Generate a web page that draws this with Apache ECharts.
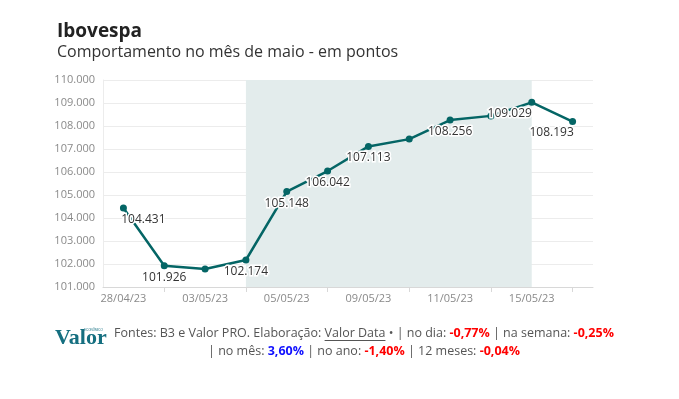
<!DOCTYPE html>
<html><head><meta charset="utf-8">
<script src="https://cdn.jsdelivr.net/npm/echarts@6/dist/echarts.min.js"></script>
<style>html,body{margin:0;padding:0;background:#fff}#c{width:679px;height:399px}</style>
</head><body><div id="c"></div>
<script>
var categories = ['28/04/23','02/05/23','03/05/23','04/05/23','05/05/23','08/05/23','09/05/23','10/05/23','11/05/23','12/05/23','15/05/23','16/05/23'];
var values = [104431, 101926, 101780, 102174, 105148, 106042, 107113, 107430, 108256, 108440, 109029, 108193];
var labeledIdx = [0,1,3,4,5,6,8,10,11];
var labelOffsets = {0:[20,0], 10:[-22,0], 11:[-21,0]};
var shadeFrom = '04/05/23', shadeTo = '15/05/23';
var yMin = 101000, yMax = 110000, yStep = 1000;

var FONT = "'Open Sans', sans-serif";
function fmt(v){ return (v/1000).toFixed(3); }

var data = values.map(function(v,i){
  var d = {value: v};
  if (labeledIdx.indexOf(i) < 0) d.label = {show:false};
  else if (labelOffsets[i]) d.label = {offset: labelOffsets[i]};
  return d;
});

var chart = echarts.init(document.getElementById('c'), null, {renderer:'canvas'});

var cv = document.createElement('canvas').getContext('2d');
function w(t, bold){ cv.font = (bold?'bold ':'') + '12.5px ' + FONT; return cv.measureText(t).width; }
var seg1 = 'Fontes: B3 e Valor PRO. Elaboração: ';
var segU = 'Valor Data';
var seg2 = ' • | no dia: ';
var segB1 = '-0,77%';
var seg3 = ' | na semana: ';
var segB2 = '-0,25%';
var line1W = w(seg1)+w(segU)+w(seg2)+w(segB1,true)+w(seg3)+w(segB2,true);
var cx = 364;
var uStart = cx - line1W/2 + w(seg1);

chart.setOption({
  animation:false,
  textStyle:{fontFamily:FONT},
  title:[
    {text:'Ibovespa', left:52, top:17, textStyle:{fontSize:19, fontWeight:'bold', color:'#222', fontFamily:FONT}},
    {text:'Comportamento no mês de maio - em pontos', left:52, top:39, textStyle:{fontSize:16, fontWeight:'normal', color:'#333', fontFamily:FONT}}
  ],
  grid:{left:103, right:86, top:80, bottom:112, containLabel:false},
  xAxis:{
    type:'category', data:categories, boundaryGap:true,
    axisLine:{show:true, lineStyle:{color:'#d8d8d8'}},
    axisTick:{show:true, alignWithLabel:true, length:5, lineStyle:{color:'#d8d8d8'}, interval:function(i){return i%2===1;}},
    axisLabel:{interval:function(i){return i%2===0;}, color:'#8a8a8a', fontSize:11, margin:6, fontFamily:FONT}
  },
  yAxis:{
    type:'value', min:yMin, max:yMax, interval:yStep,
    axisLine:{show:true, lineStyle:{color:'#ececec'}},
    axisTick:{show:false},
    splitLine:{lineStyle:{color:'#ececec'}},
    axisLabel:{formatter:fmt, color:'#8a8a8a', fontSize:11, margin:8, fontFamily:FONT}
  },
  series:[{
    type:'line', data:data, symbol:'circle', symbolSize:7,
    itemStyle:{color:'#046565'}, lineStyle:{color:'#046565', width:2.5},
    label:{show:true, position:'bottom', distance:2, formatter:function(p){return fmt(p.value);},
      color:'#333', fontSize:12, fontFamily:FONT, textBorderColor:'#fff', textBorderWidth:3},
    markArea:{silent:true, itemStyle:{color:'#e3ecec'}, data:[[{xAxis:shadeFrom},{xAxis:shadeTo}]]},
    z:3
  }],
  graphic:[
    {type:'text', left:55, top:327, style:{text:'Valor', font:"bold 22px 'Liberation Serif', serif", fill:'#156f80'}},
    {type:'text', left:84, top:329, style:{text:'ECONÔMICO', font:"3px sans-serif", fill:'#156f80'}},
    {type:'text', x:cx, y:333, style:{
      text:'{n|'+seg1+'}{n|'+segU+'}{n|'+seg2+'}{r|'+segB1+'}{n|'+seg3+'}{r|'+segB2+'}',
      align:'center', verticalAlign:'middle',
      rich:{n:{fontSize:12.5, fontFamily:FONT, fill:'#555', color:'#555'}, r:{fontSize:12.5, fontFamily:FONT, fontWeight:'bold', fill:'#f00', color:'#f00'}}
    }},
    {type:'rect', shape:{x:uStart, y:340, width:w(segU), height:1}, style:{fill:'#555'}},
    {type:'text', x:cx, y:351, style:{
      text:'{n|| no mês: }{b|3,60%}{n| | no ano: }{r|-1,40%}{n| | 12 meses: }{r|-0,04%}',
      align:'center', verticalAlign:'middle',
      rich:{n:{fontSize:12.5, fontFamily:FONT, fill:'#555', color:'#555'}, r:{fontSize:12.5, fontFamily:FONT, fontWeight:'bold', fill:'#f00', color:'#f00'}, b:{fontSize:12.5, fontFamily:FONT, fontWeight:'bold', fill:'#1010ff', color:'#1010ff'}}
    }}
  ]
});
</script></body></html>
